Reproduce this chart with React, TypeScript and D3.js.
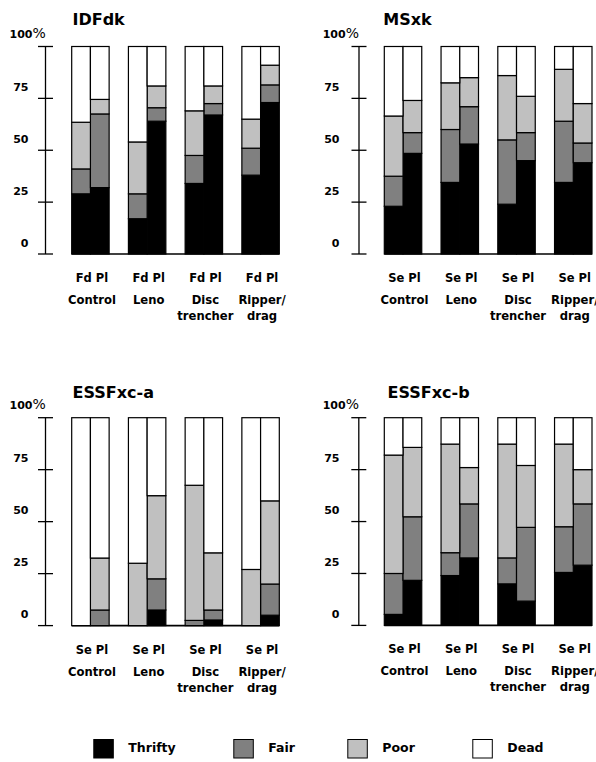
import React from "react";
import * as d3 from "d3";

const groups = ["Control", "Leno", "Disc trencher", "Ripper/ drag"];
const classes = ["Thrifty", "Fair", "Poor", "Dead"];
const classColors = ["#000000", "#808080", "#c0c0c0", "#ffffff"];
const yTicks = [0, 25, 50, 75];

const titles = ["IDFdk", "MSxk", "ESSFxc-a", "ESSFxc-b"];
const speciesSets = [["Fd", "Pl"], ["Se", "Pl"], ["Se", "Pl"], ["Se", "Pl"]];

// order per panel: Control sp1, Control sp2, Leno sp1, Leno sp2, Disc sp1, Disc sp2, Ripper sp1, Ripper sp2
const idfThrifty = [29, 32, 17, 64, 34, 67, 38, 73];
const idfFair = [12, 35.5, 12, 6.5, 13.5, 5.5, 13, 8.5];
const idfPoor = [22.5, 7, 25, 10.5, 21.5, 8.5, 14, 9.5];
const idfDead = [36.5, 25.5, 46, 19, 31, 19, 35, 9];

const msThrifty = [23, 48.5, 34.5, 53, 24, 45, 34.5, 44];
const msFair = [14.5, 10, 25.5, 18, 31, 13.5, 29.5, 9.5];
const msPoor = [29, 15.5, 22.5, 14, 31, 17.5, 25, 19];
const msDead = [33.5, 26, 17.5, 15, 14, 24, 11, 27.5];

const esaThrifty = [0, 0, 0, 7.5, 0, 2.7, 0, 5];
const esaFair = [0, 7.5, 0, 15, 2.5, 4.8, 0, 15];
const esaPoor = [0, 25, 30, 40, 65, 27.5, 27, 40];
const esaDead = [100, 67.5, 70, 37.5, 32.5, 65, 73, 40];

const esbThrifty = [5.3, 21.7, 24, 32.5, 20, 11.7, 25.5, 29];
const esbFair = [19.7, 30.6, 11, 26, 12.5, 35.5, 22, 29.5];
const esbPoor = [57, 33.4, 52.3, 17.5, 54.8, 29.8, 39.8, 16.5];
const esbDead = [18, 14.3, 12.7, 24, 12.7, 23, 12.7, 25];

const panelValues = [
  [idfThrifty, idfFair, idfPoor, idfDead],
  [msThrifty, msFair, msPoor, msDead],
  [esaThrifty, esaFair, esaPoor, esaDead],
  [esbThrifty, esbFair, esbPoor, esbDead],
];

const FONT = "'DejaVu Sans', sans-serif";

type Layout = {
  axisX: number;
  barStart: number;
  barEnd: number;
  yTop: number;
  yZero: number;
  titleX: number;
  titleY: number;
  labelRight: number;
  pctX: number;
};

const layouts: Layout[] = [
  { axisX: 45.5, barStart: 71.7, barEnd: 279.3, yTop: 46.5, yZero: 254, titleX: 72.5, titleY: 25, labelRight: 28.5, pctX: 9.5 },
  { axisX: 359, barStart: 384.3, barEnd: 592, yTop: 46.5, yZero: 254, titleX: 383.3, titleY: 25, labelRight: 339.5, pctX: 322.7 },
  { axisX: 45.5, barStart: 71.7, barEnd: 279.3, yTop: 417.7, yZero: 625.6, titleX: 72.5, titleY: 398, labelRight: 28.5, pctX: 9.5 },
  { axisX: 358.8, barStart: 384.3, barEnd: 592, yTop: 417.7, yZero: 625.4, titleX: 387.5, titleY: 398, labelRight: 339.5, pctX: 322.7 },
];

function Panel({ idx }: { idx: number }) {
  const L = layouts[idx];
  const species = speciesSets[idx];
  const vals = panelValues[idx];
  const rows = groups.flatMap((g, gi) =>
    species.map((s, si) => {
      const k = gi * 2 + si;
      const r: any = { group: g, species: s };
      classes.forEach((c, ci) => (r[c] = vals[ci][k]));
      return r;
    })
  );
  const stack = d3.stack<any>().keys(classes);
  const series = stack(rows);
  const x0 = d3.scaleBand<string>().domain(groups).range([L.barStart, L.barEnd]).paddingInner(0.34).paddingOuter(0);
  const x1 = d3.scaleBand<string>().domain(species).range([0, x0.bandwidth()]).padding(0);
  const y = d3.scaleLinear().domain([0, 100]).range([L.yZero, L.yTop]);

  return (
    <g>
      <text x={L.titleX} y={L.titleY} fontFamily={FONT} fontWeight="bold" fontSize={16} fill="#000">
        {titles[idx]}
      </text>
      {/* axis */}
      <line x1={L.axisX} x2={L.axisX} y1={y(100)} y2={y(0)} stroke="#000" strokeWidth={1.3} />
      {[...yTicks, 100].map((t) => (
        <line key={t} x1={L.axisX - 7.5} x2={L.axisX + 7.5} y1={y(t)} y2={y(t)} stroke="#000" strokeWidth={1.3} />
      ))}
      {yTicks.map((t) => (
        <text key={t} x={L.labelRight} y={y(t) - 7.5} textAnchor="end" fontFamily={FONT} fontWeight="bold" fontSize={11} fill="#000">
          {t}
        </text>
      ))}
      <text x={L.pctX} y={y(100) - 8.3} fontFamily={FONT} fontWeight="bold" fontSize={11} fill="#000">
        100<tspan fontSize={14} fontWeight="normal">%</tspan>
      </text>
      {/* baseline */}
      <line x1={L.barStart} x2={L.barEnd} y1={y(0)} y2={y(0)} stroke="#000" strokeWidth={1.6} />
      {/* bars */}
      {series.map((ser, ci) =>
        ser.map((d, i) => {
          const r = rows[i];
          const h = y(d[0]) - y(d[1]);
          if (h <= 0) return null;
          return (
            <rect
              key={ci + "-" + i}
              x={(x0(r.group) as number) + (x1(r.species) as number)}
              y={y(d[1])}
              width={x1.bandwidth()}
              height={h}
              fill={classColors[ci]}
              stroke="#000"
              strokeWidth={1.2}
            />
          );
        })
      )}
      {/* labels */}
      {groups.map((g) => {
        const cx = (x0(g) as number) + x0.bandwidth() / 2 + 1.5;
        const lines = g.split(" ");
        return (
          <g key={g}>
            <text x={cx} y={y(0) + 28} textAnchor="middle" fontFamily={FONT} fontWeight="bold" fontSize={11.5} fill="#000">
              {species.join(" ")}
            </text>
            {lines.map((ln, li) => (
              <text key={li} x={cx} y={y(0) + 50 + li * 16} textAnchor="middle" fontFamily={FONT} fontWeight="bold" fontSize={11.6} fill="#000">
                {ln}
              </text>
            ))}
          </g>
        );
      })}
    </g>
  );
}

const legendX = [93.3, 233.3, 347.3, 472.3];

export default function App() {
  return (
    <svg width={596} height={762} style={{ position: "absolute", left: 0, top: 0, background: "#fff" }}>
      <rect x={0} y={0} width={596} height={762} fill="#fff" />
      {[0, 1, 2, 3].map((i) => (
        <Panel key={i} idx={i} />
      ))}
      {classes.map((c, i) => (
        <g key={c}>
          <rect x={legendX[i] + 0.5} y={739.5} width={19.5} height={18.5} fill={classColors[i]} stroke="#000" strokeWidth={1} />
          <text x={legendX[i] + 35} y={752} fontFamily={FONT} fontWeight="bold" fontSize={12.5} fill="#000">
            {c}
          </text>
        </g>
      ))}
    </svg>
  );
}
